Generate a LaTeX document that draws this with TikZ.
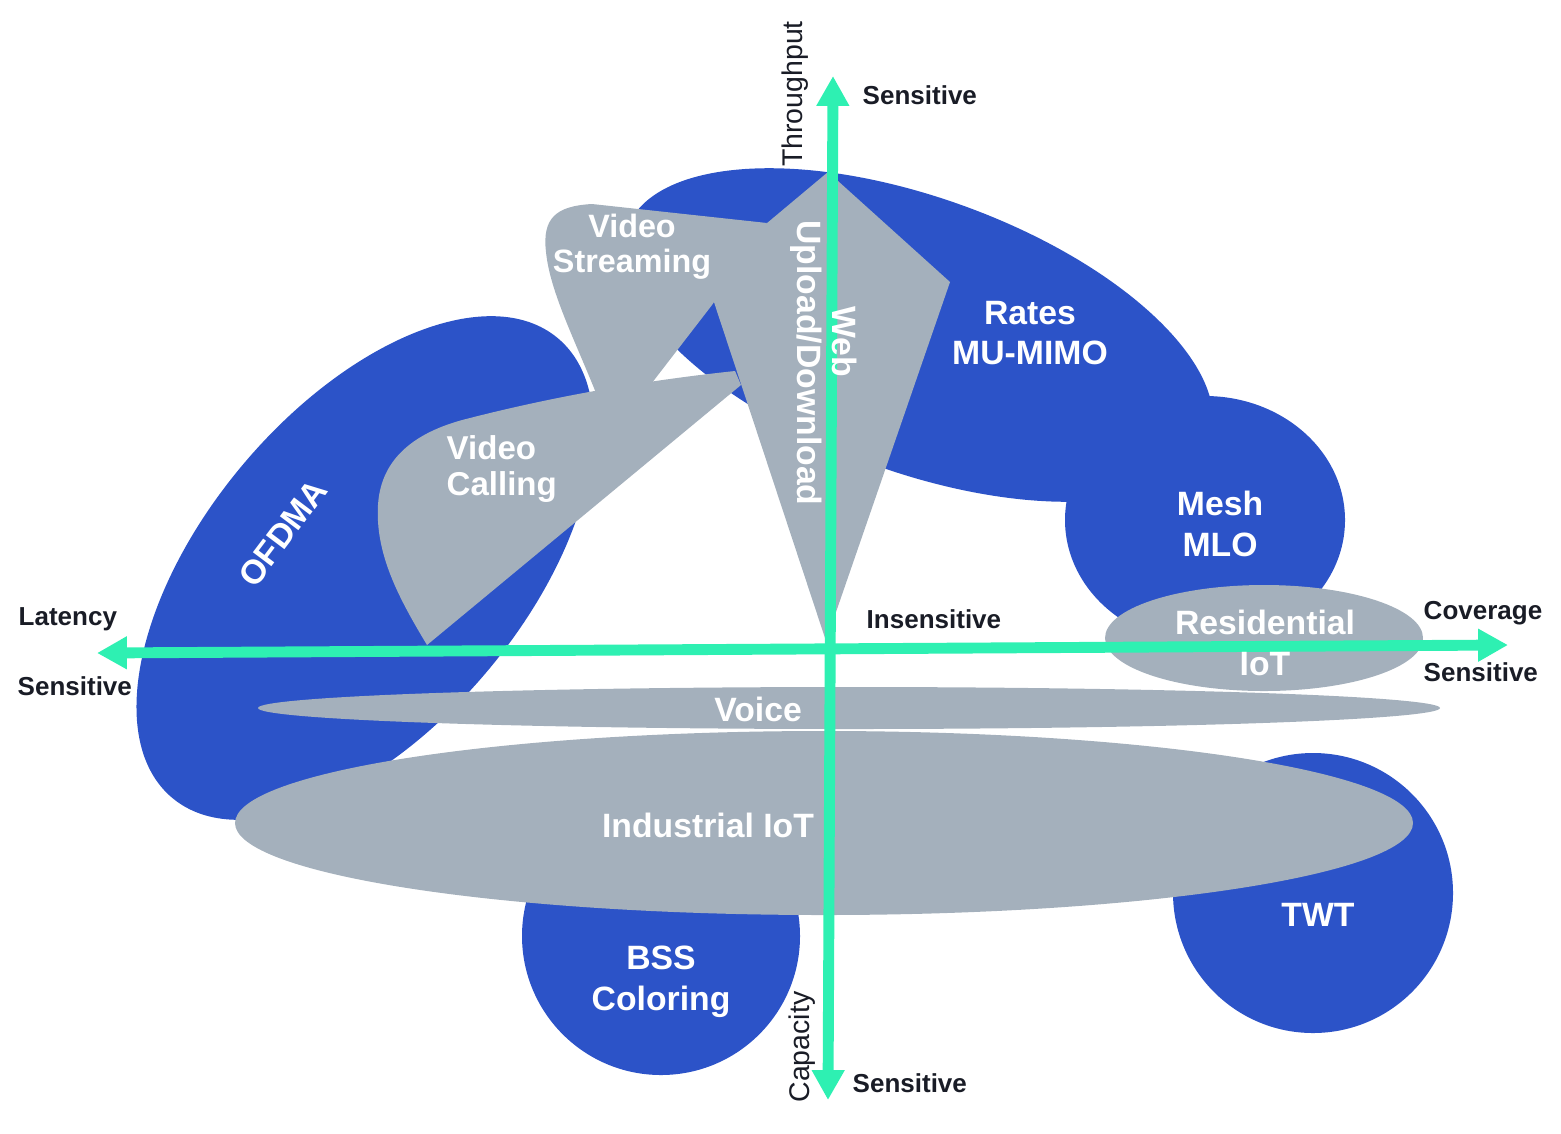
\documentclass[tikz,border=0pt]{standalone}
\usepackage{fontspec}
\setmainfont{Liberation Sans}
\usetikzlibrary{arrows.meta}
\definecolor{wifiblue}{RGB}{44,83,200}
\definecolor{wifigrey}{RGB}{164,176,188}
\definecolor{axisgreen}{RGB}{46,240,178}
\definecolor{inkdark}{RGB}{25,28,38}
\begin{document}
\begin{tikzpicture}[x=0.1mm,y=-0.1mm,line join=round,
    blob/.style={fill=wifiblue},
    patch/.style={fill=wifigrey},
    tag/.style={text=white,font=\bfseries\fontsize{9.6}{11.6}\selectfont,align=center,inner sep=0pt},
    axistag/.style={text=inkdark,font=\bfseries\fontsize{7.4}{9}\selectfont,inner sep=0pt},
    axisname/.style={text=inkdark,font=\fontsize{8.1}{9}\selectfont,inner sep=0pt,rotate=90},
    axisline/.style={draw=axisgreen,line width=3.1pt,{Triangle[length=8.5pt,width=8.8pt]}-{Triangle[length=8.5pt,width=8.8pt]}}]
    \useasboundingbox (0,0) rectangle (1561,1133);

    % features (blue)
    \fill[blob,rotate around={50:(365,568)}] (365,568) ellipse [x radius=300,y radius=160];
    \fill[blob,rotate around={-20:(918,335)}] (918,335) ellipse [x radius=310,y radius=137];
    \fill[blob] (1205,520) ellipse [x radius=140,y radius=124];
    \fill[blob] (661,936) circle (139);
    \fill[blob] (1313,893) circle (140);

    % applications (grey)
    \fill[patch] (598,398) .. controls (575,340) and (550,292) .. (546,252)
        .. controls (542,218) and (556,206) .. (592,204) -- (767,223) -- (712,305) -- (648,388) -- cycle;
    \fill[patch] (828,172) -- (950,282) -- (826,641) -- (705,275) -- cycle;
    \fill[patch] (427,645) .. controls (400,600) and (375,555) .. (378,505)
        .. controls (381,455) and (420,430) .. (470,418)
        .. controls (560,395) and (650,380) .. (735,371) -- (741,385) -- cycle;
    \fill[patch] (1264,638) ellipse [x radius=159,y radius=53];
    \fill[patch] (849,708) ellipse [x radius=591,y radius=21];
    \fill[patch] (824,823) ellipse [x radius=589,y radius=92];

    % axes
    \coordinate (lat) at (97,653);
    \coordinate (cov) at (1508,645);
    \coordinate (thr) at (833,76);
    \coordinate (cap) at (828,1100);
    \draw[axisline] (lat) -- (cov);
    \draw[axisline] (cap) -- (thr);

    \node[tag] (rates) at (1030,333) {Rates\\MU-MIMO};
    \node[tag] (mesh) at (1220,524) {Mesh\\MLO};
    \node[tag] (resiot) at (1265,643) {Residential\\IoT};
    \node[tag] (voice) at (758,709) {Voice};
    \node[tag] (indiot) at (708,825) {Industrial IoT};
    \node[tag] (bss) at (661,982) {BSS\\Coloring};
    \node[tag] (twt) at (1318,915) {TWT};
    \node[tag,rotate=53] (ofdma) at (283,533) {OFDMA};
    \node[tag,font=\bfseries\fontsize{9.2}{10}\selectfont] (vstream) at (632,247) {Video\\Streaming};
    \node[tag,font=\bfseries\fontsize{9.4}{10}\selectfont,align=left,anchor=west] (vcall) at (446,469) {Video\\Calling};
    \node[tag,rotate=-90] (web) at (845,342) {Web};
    \node[tag,rotate=-90] (updown) at (806,363) {Upload/Download};

    \node[axisname] (thrname) at (795,94) {Throughput};
    \node[axisname] (capname) at (802,1047) {Capacity};
    \node[axistag,anchor=west] (thrsens) at (862,95) {Sensitive};
    \node[axistag,anchor=west] (capsens) at (852,1083) {Sensitive};
    \node[axistag,anchor=west] (insens) at (866,619) {Insensitive};
    \node[axistag,anchor=west] (latname) at (18,619) {Latency};
    \node[axistag,anchor=west] (latsens) at (17,686) {Sensitive};
    \node[axistag,anchor=west] (covname) at (1423,613) {Coverage};
    \node[axistag,anchor=west] (covsens) at (1423,672) {Sensitive};
\end{tikzpicture}
\end{document}
